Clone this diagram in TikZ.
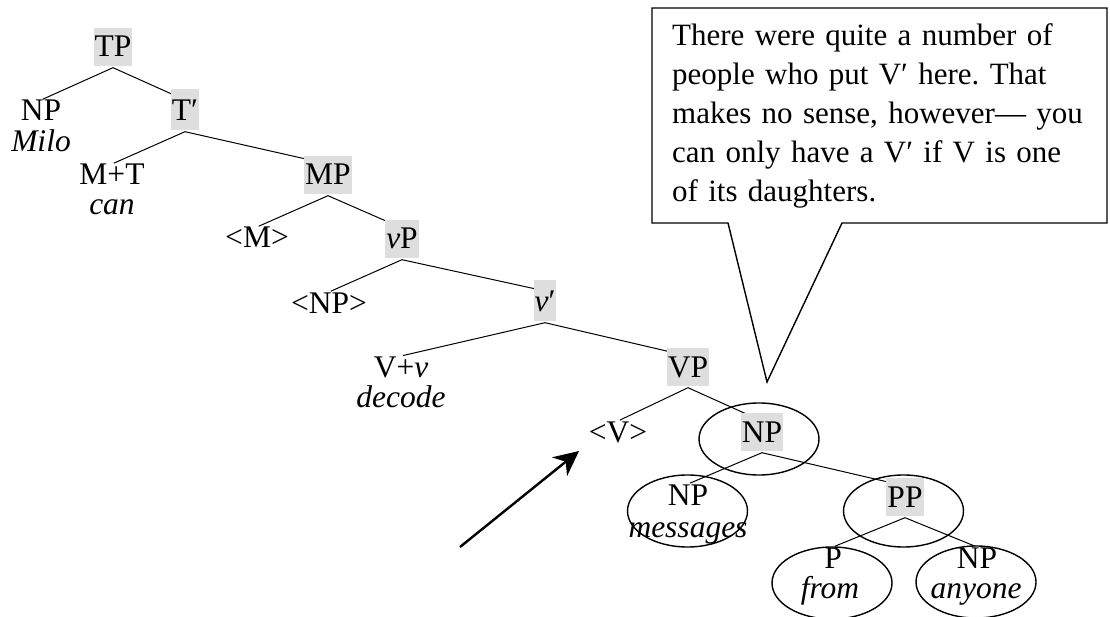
\documentclass[tikz,border=0pt]{standalone}
\usepackage{fontspec}
\setmainfont{Liberation Serif}
\usetikzlibrary{arrows.meta,backgrounds}
\definecolor{catgray}{gray}{0.87}
\newcommand{\treefont}{\fontsize{31.5}{31.5}\selectfont}

\begin{document}
\begin{tikzpicture}[x=1pt,y={(0pt,-1pt)},
  lbl/.style={anchor=base,inner sep=0pt,font=\treefont},
  word/.style={anchor=base,inner sep=0pt,font=\treefont\itshape},
  cat/.style={anchor=base,fill=catgray,inner xsep=1pt,inner ysep=0pt,text height=29pt,text depth=9pt,font=\treefont},
  primed/.style={text height=32pt},
  branch/.style={line width=1pt,shorten >=2pt},
  ring/.style={line width=1.4pt},
  callout/.style={line width=1.4pt},
  pointer/.style={line width=2.4pt,-{Stealth[length=25pt,width=24pt,inset=8pt]}}]
\useasboundingbox (0,0) rectangle (1110,617);

% Tree
\node[cat] (tp) at (113,57) {TP};
\node[lbl] (np1) at (41,121) {NP};
\node[word] (milo) at (41,152) {Milo};
\node[cat,primed] (tbar) at (185,121) {T′};
\node[lbl] (mt) at (112,185) {M+T};
\node[word] (can) at (112,215) {can};
\node[cat] (mp) at (328,185) {MP};
\node[lbl] (m) at (257,248) {<M>};
\node[cat] (vp1) at (402,249) {\textit{v}P};
\node[lbl] (np2) at (329,313) {<NP>};
\node[cat,primed] (vbar) at (545,312) {\textit{v}′};
\node[lbl] (vv) at (401,377) {V+\textit{v}};
\node[word] (decode) at (401,407) {decode};
\node[cat] (vp2) at (688,377) {VP};
\node[lbl] (v) at (618,442) {<V>};
\node[cat] (np3) at (762,442) {NP};
\node[lbl] (np4) at (688,505) {NP};
\node[word] (messages) at (688,537) {messages};
\node[cat] (pp) at (905,507) {PP};
\node[lbl] (p) at (833,568) {P};
\node[word] (from) at (830,598) {from};
\node[lbl] (np5) at (977,568) {NP};
\node[word] (anyone) at (976,598) {anyone};

\begin{pgfonlayer}{background}
\foreach \a/\b in {tp/np1,tp/tbar,tbar/mt,tbar/mp,mp/m,mp/vp1,vp1/np2,vp1/vbar,
    vbar/vv,vbar/vp2,vp2/v,vp2/np3,np3/np4,np3/pp,pp/p,pp/np5}
  \draw[branch] ([yshift=-1.5pt]\a.south) -- ([yshift=21pt]\b.base);
\end{pgfonlayer}

% Circled constituents
\foreach \x/\y in {759/439,687.5/511,903.5/511,832/583,976/582}
  \draw[ring] (\x,\y) ellipse (60pt and 36pt);

% Comment box
\coordinate (tip) at (767,382);
\draw[callout] (652,8) -- (1107,8) -- (1107,223) -- (842,223) -- (tip)
  -- (728,223) -- (652,223) -- cycle;
\node[anchor=base west,inner sep=0pt,text width=430pt,align=left,
  font=\fontsize{31}{39}\selectfont\frenchspacing] (note) at (672,46)
  {There were quite a number of\\ people who put V′ here. That\\
   makes no sense, however— you\\ can only have a V′ if V is one\\
   of its daughters.};

% Arrow
\coordinate (tail) at (460,547);
\coordinate (head) at (579,451);
\draw[pointer] (tail) -- (head);
\end{tikzpicture}
\end{document}
